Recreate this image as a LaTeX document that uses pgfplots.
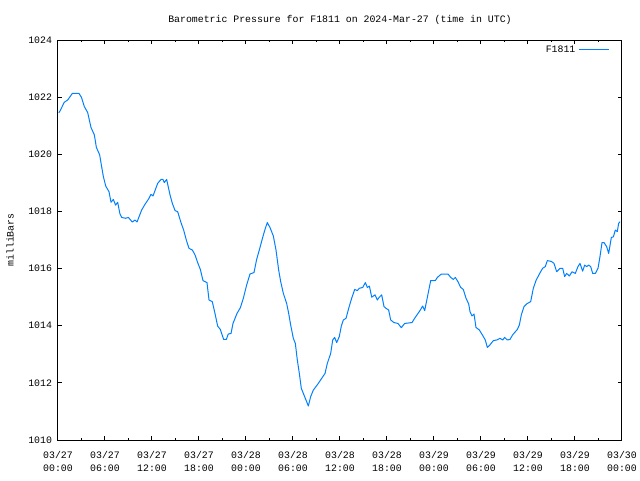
\documentclass[border=0pt]{standalone}
\usepackage{pgfplots}
\pgfplotsset{compat=1.18}
\usepackage{fontspec}
\setmainfont{Liberation Mono}
\definecolor{lineblue}{RGB}{0,128,255}
\newcommand{\gfont}{\fontsize{7.4}{9.6}\selectfont}
\begin{document}
\begin{tikzpicture}
\useasboundingbox (-43.5pt,-30pt) rectangle (436.5pt,330pt);
\begin{axis}[
  at={(0,0)}, anchor=south west,
  scale only axis,
  width=423pt, height=300pt,
  xmin=0, xmax=72, ymin=1010, ymax=1024,
  xtick={0,6,...,72},
  minor xtick={3,9,...,69},
  xticklabels={{03/27\\00:00},{03/27\\06:00},{03/27\\12:00},{03/27\\18:00},{03/28\\00:00},{03/28\\06:00},{03/28\\12:00},{03/28\\18:00},{03/29\\00:00},{03/29\\06:00},{03/29\\12:00},{03/29\\18:00},{03/30\\00:00}},
  ytick={1010,1012,...,1024},
  yticklabels={1010,1012,1014,1016,1018,1020,1022,1024},
  tick align=inside,
  tick pos=both,
  major tick length=3pt,
  minor tick length=1.5pt,
  every tick/.style={black, line width=0.75pt},
  axis line style={line width=0.75pt},
  ticklabel style={font=\gfont},
  xticklabel style={align=center, yshift=-5.25pt},
  yticklabel style={xshift=-1pt},
  title={Barometric Pressure for F1811 on 2024-Mar-27 (time in UTC)},
  title style={font=\gfont, at={(axis description cs:0.5,1)}, anchor=center, yshift=9pt},
  ylabel={milliBars},
  ylabel style={font=\gfont, at={(axis description cs:-0.085,0.5)}, anchor=center, rotate=0},
  legend plot pos=right,
  legend style={draw=none, fill=none, font=\gfont, at={(axis description cs:1,1)}, anchor=north east, xshift=-8.5pt, yshift=-1pt, inner sep=1pt},
  legend image code/.code={\draw[#1] (0pt,0pt) -- (22.5pt,0pt);},
]
\addplot[color=lineblue, line width=0.75pt, line join=round] coordinates {
(0.1,1021.45) (0.26,1021.52) (0.8,1021.82) (1.24,1021.9) (1.83,1022.13) (2.68,1022.13) (3.0,1021.99) (3.36,1021.67) (3.79,1021.46) (4.21,1020.94) (4.64,1020.68) (4.9,1020.24) (5.32,1019.98) (5.57,1019.57) (5.79,1019.22) (6.09,1018.89) (6.51,1018.69) (6.77,1018.32) (7.06,1018.42) (7.36,1018.22) (7.62,1018.32) (7.91,1017.91) (8.13,1017.79) (8.64,1017.76) (8.98,1017.79) (9.49,1017.63) (9.83,1017.70) (10.09,1017.63) (10.68,1018.05) (11.11,1018.25) (11.62,1018.46) (11.87,1018.60) (12.13,1018.54) (12.72,1018.98) (13.15,1019.12) (13.4,1019.12) (13.57,1019.01) (13.87,1019.12) (14.3,1018.58) (14.6,1018.28) (14.94,1018.03) (15.28,1017.99) (15.7,1017.61) (16.04,1017.35) (16.38,1017.0) (16.72,1016.71) (17.15,1016.65) (17.49,1016.48) (17.83,1016.21) (18.17,1015.97) (18.51,1015.58) (19.02,1015.51) (19.28,1014.9) (19.7,1014.84) (20.04,1014.43) (20.38,1013.99) (20.72,1013.87) (21.15,1013.52) (21.49,1013.52) (21.74,1013.71) (22.09,1013.73) (22.34,1014.08) (22.85,1014.43) (23.28,1014.63) (23.66,1014.96) (24.09,1015.43) (24.51,1015.81) (25.02,1015.86) (25.36,1016.32) (25.7,1016.65) (26.13,1017.09) (26.47,1017.41) (26.72,1017.61) (27.06,1017.44) (27.49,1017.14) (27.83,1016.65) (28.17,1015.95) (28.43,1015.54) (28.77,1015.13) (29.19,1014.78) (29.45,1014.43) (29.7,1014.03) (30.04,1013.56) (30.3,1013.38) (30.55,1012.8) (30.81,1012.33) (31.06,1011.81) (31.32,1011.63) (31.57,1011.46) (31.96,1011.19) (32.26,1011.52) (32.6,1011.75) (33.1,1011.93) (33.67,1012.16) (34.09,1012.33) (34.38,1012.68) (34.81,1013.03) (35.07,1013.5) (35.32,1013.59) (35.58,1013.41) (35.91,1013.62) (36.17,1013.99) (36.43,1014.2) (36.77,1014.26) (37.11,1014.61) (37.49,1014.96) (37.88,1015.27) (38.21,1015.23) (38.47,1015.31) (38.9,1015.34) (39.24,1015.51) (39.49,1015.34) (39.75,1015.39) (40.05,1015.0) (40.47,1015.08) (40.77,1014.9) (41.02,1015.0) (41.32,1015.08) (41.62,1014.67) (41.87,1014.61) (42.21,1014.55) (42.47,1014.2) (42.89,1014.11) (43.4,1014.08) (43.83,1013.93) (44.26,1014.08) (45.19,1014.11) (45.53,1014.26) (45.96,1014.43) (46.21,1014.53) (46.55,1014.69) (46.81,1014.53) (47.15,1014.99) (47.58,1015.58) (48.17,1015.58) (48.43,1015.69) (48.94,1015.81) (49.79,1015.81) (50.13,1015.69) (50.47,1015.62) (50.72,1015.69) (51.06,1015.54) (51.41,1015.34) (51.74,1015.27) (52.09,1014.96) (52.43,1014.76) (52.6,1014.49) (52.85,1014.34) (53.11,1014.41) (53.36,1013.94) (53.79,1013.85) (54.3,1013.62) (54.55,1013.5) (54.81,1013.24) (55.15,1013.33) (55.58,1013.48) (56.0,1013.5) (56.43,1013.56) (56.77,1013.5) (57.02,1013.59) (57.36,1013.5) (57.7,1013.52) (58.04,1013.68) (58.64,1013.87) (58.9,1014.03) (59.15,1014.38) (59.49,1014.67) (59.91,1014.78) (60.34,1014.84) (60.68,1015.31) (61.02,1015.58) (61.45,1015.81) (61.87,1016.01) (62.21,1016.07) (62.47,1016.28) (62.98,1016.25) (63.32,1016.18) (63.66,1015.89) (64.09,1016.01) (64.43,1016.01) (64.68,1015.72) (64.94,1015.83) (65.28,1015.74) (65.62,1015.89) (66.04,1015.83) (66.38,1016.07) (66.64,1016.18) (66.98,1015.91) (67.23,1016.12) (67.49,1016.07) (67.75,1016.12) (68.0,1016.07) (68.26,1015.83) (68.6,1015.83) (68.94,1016.01) (69.19,1016.42) (69.45,1016.91) (69.7,1016.91) (70.04,1016.77) (70.3,1016.53) (70.64,1017.09) (70.9,1017.11) (71.15,1017.35) (71.4,1017.29) (71.57,1017.58) (71.74,1017.64)
};
\addlegendentry{F1811}
\end{axis}
\end{tikzpicture}
\end{document}
